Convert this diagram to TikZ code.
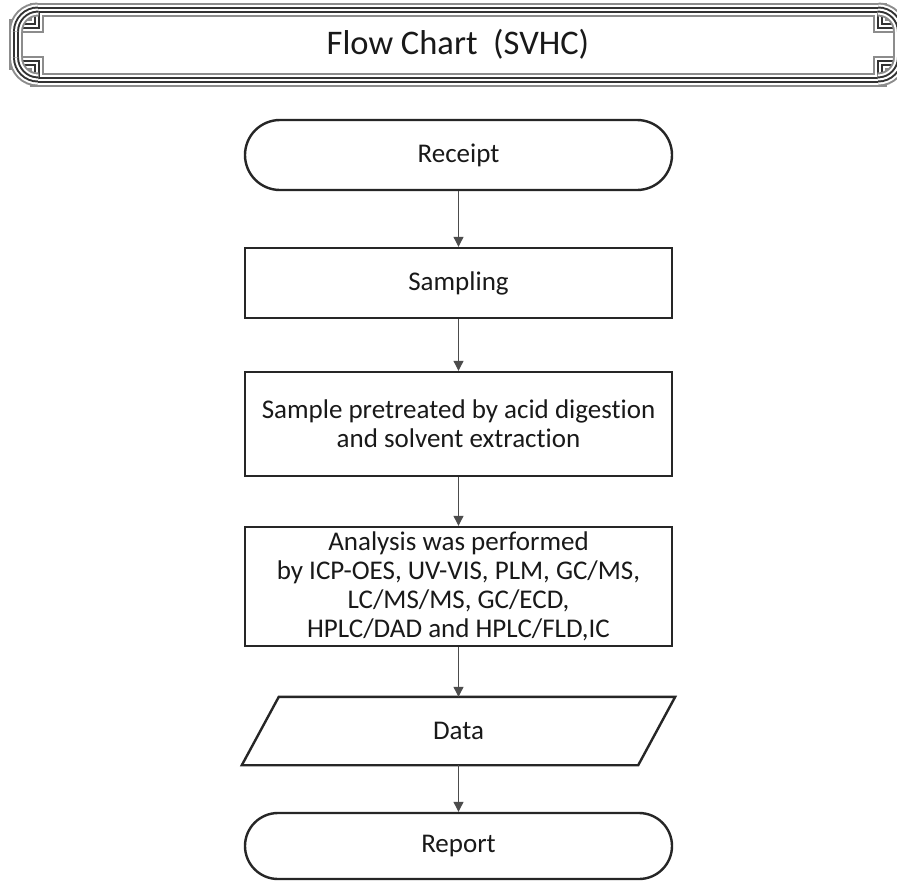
\documentclass[tikz,border=0pt]{standalone}
\usepackage{fontspec}
\setmainfont{Carlito}[Ligatures=NoCommon]
\usetikzlibrary{arrows.meta,calc}
\newcommand\myBody{\fontsize{27}{29}\selectfont}
\begin{document}
\begin{tikzpicture}[x=1pt,y=-1pt,
  box/.style={draw=black!85, line width=2.4pt, fill=white, minimum width=427pt, align=center, inner sep=0pt, font=\myBody, text=black!90},
  term/.style={box, rounded corners=35pt},
  databox/.style={draw=black!85, line width=2.4pt, line join=miter},
  flow/.style={draw=black!70, line width=1.1pt, -{Triangle[width=10pt,length=10pt]}},
]
\useasboundingbox (0,0) rectangle (897,881);
\fill[white] (0,0) rectangle (897,881);

% title frame
\begin{scope}
\clip (0,0) rectangle (897,881);
\foreach \w/\c in {14/black!45, 10/white, 6/black!80, 2/white}{
  \draw[line width=\w pt, draw=\c, line join=miter]
    (36.5,9.5) -- (879.5,9.5) -- (879.5,26) -- (900,26) -- (900,63) -- (879.5,63)
    -- (879.5,79.5) -- (36.5,79.5) -- (36.5,63) -- (16,63) -- (16,26) -- (36.5,26) -- cycle;
}
\foreach \w/\c in {14/black!45, 10/white, 6/black!80, 2/white}{
  \draw[line width=\w pt, draw=\c] (38,9.5) .. controls (25.85,9.5) and (16,19.35) .. (16,31.5);
  \draw[line width=\w pt, draw=\c] (16,57.5) .. controls (16,69.65) and (25.85,79.5) .. (38,79.5);
  \draw[line width=\w pt, draw=\c] (878,9.5) .. controls (890.15,9.5) and (900,19.35) .. (900,31.5);
  \draw[line width=\w pt, draw=\c] (900,57.5) .. controls (900,69.65) and (890.15,79.5) .. (878,79.5);
}
\end{scope}
\node[font=\fontsize{34.5}{40}\selectfont, text=black!90] (title) at (458,44) {Flow Chart\ \ (SVHC)};

% flow nodes
\node[term, minimum height=70pt] (receipt) at (458.5,155) {Receipt};
\node[box, minimum height=70pt] (sampling) at (458.5,283) {Sampling};
\node[box, minimum height=104pt] (pre) at (458.5,424) {Sample pretreated by acid digestion\\and solvent extraction};
\node[box, minimum height=119pt] (ana) at (458.5,586.5) {Analysis was performed\\by ICP-OES, UV-VIS, PLM, GC/MS,\\LC/MS/MS, GC/ECD,\\HPLC/DAD and HPLC/FLD,IC};
\node[minimum width=396pt, minimum height=68pt, inner sep=0pt, font=\myBody, text=black!90] (data) at (458.5,731) {Data};
\draw[databox] ($(data.north west)+(18.5,0)$) -- ($(data.north east)+(18.5,0)$)
  -- ($(data.south east)+(-18.5,0)$) -- ($(data.south west)+(-18.5,0)$) -- cycle;
\node[term, minimum height=66pt, rounded corners=33pt] (report) at (458.5,846) {Report};

% connectors
\draw[flow] (receipt.south) -- (sampling.north);
\draw[flow] (sampling.south) -- (pre.north);
\draw[flow] (pre.south) -- (ana.north);
\draw[flow] (ana.south) -- (data.north);
\draw[flow] (data.south) -- (report.north);
\end{tikzpicture}
\end{document}
